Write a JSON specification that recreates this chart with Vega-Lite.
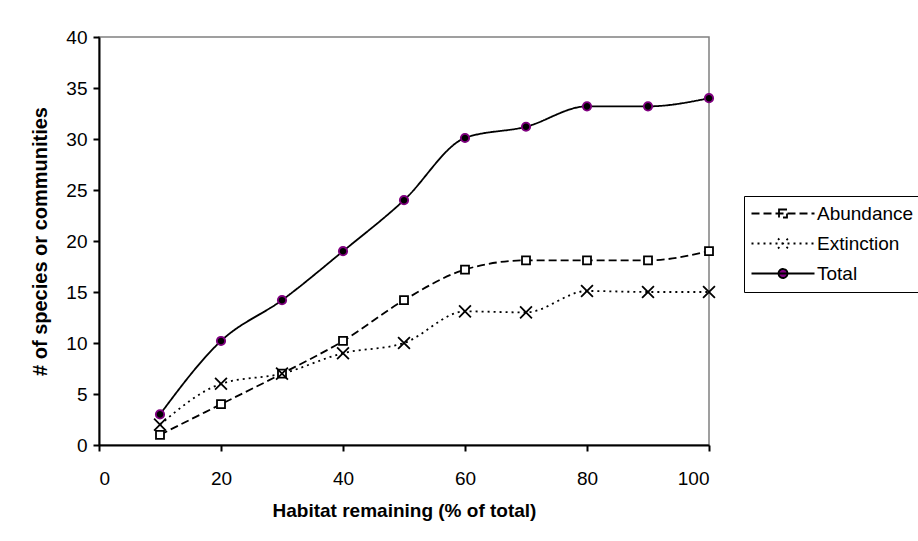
{
  "$schema": "https://vega.github.io/schema/vega-lite/v6.json",
  "width": 610,
  "height": 408,
  "autosize": {"type": "none"},
  "padding": {"left": 99, "top": 37, "right": 209, "bottom": 96},
  "background": "white",
  "config": {
    "view": {"stroke": "#808080", "strokeWidth": 1.5},
    "font": "Liberation Sans",
    "axis": {"labelFont": "Liberation Sans", "titleFont": "Liberation Sans", "labelFontSize": 19, "titleFontSize": 19, "titleFontWeight": "bold", "labelColor": "black", "titleColor": "black", "domainColor": "black", "domainWidth": 2, "tickColor": "black", "tickWidth": 2, "tickSize": 6, "grid": false}
  },
  "data": {"values": [
    {"x": 10, "series": "Abundance", "y": 1},
    {"x": 20, "series": "Abundance", "y": 4},
    {"x": 30, "series": "Abundance", "y": 7},
    {"x": 40, "series": "Abundance", "y": 10.2},
    {"x": 50, "series": "Abundance", "y": 14.2},
    {"x": 60, "series": "Abundance", "y": 17.2},
    {"x": 70, "series": "Abundance", "y": 18.1},
    {"x": 80, "series": "Abundance", "y": 18.1},
    {"x": 90, "series": "Abundance", "y": 18.1},
    {"x": 100, "series": "Abundance", "y": 19},
    {"x": 10, "series": "Extinction", "y": 2},
    {"x": 20, "series": "Extinction", "y": 6},
    {"x": 30, "series": "Extinction", "y": 7},
    {"x": 40, "series": "Extinction", "y": 9},
    {"x": 50, "series": "Extinction", "y": 10},
    {"x": 60, "series": "Extinction", "y": 13.1},
    {"x": 70, "series": "Extinction", "y": 13},
    {"x": 80, "series": "Extinction", "y": 15.1},
    {"x": 90, "series": "Extinction", "y": 15},
    {"x": 100, "series": "Extinction", "y": 15},
    {"x": 10, "series": "Total", "y": 3},
    {"x": 20, "series": "Total", "y": 10.2},
    {"x": 30, "series": "Total", "y": 14.2},
    {"x": 40, "series": "Total", "y": 19},
    {"x": 50, "series": "Total", "y": 24},
    {"x": 60, "series": "Total", "y": 30.1},
    {"x": 70, "series": "Total", "y": 31.2},
    {"x": 80, "series": "Total", "y": 33.2},
    {"x": 90, "series": "Total", "y": 33.2},
    {"x": 100, "series": "Total", "y": 34}
  ]},
  "encoding": {
    "x": {"field": "x", "type": "quantitative", "scale": {"domain": [0, 100], "nice": false}, "axis": {"values": [0, 20, 40, 60, 80, 100], "title": "Habitat remaining (% of total)", "labelPadding": 18, "titlePadding": 13}},
    "y": {"field": "y", "type": "quantitative", "scale": {"domain": [0, 40], "nice": false}, "axis": {"values": [0, 5, 10, 15, 20, 25, 30, 35, 40], "title": "# of species or communities", "titleFontSize": 20, "labelPadding": 6, "titlePadding": 15}}
  },
  "layer": [
    {
      "mark": {"type": "line", "interpolate": "monotone", "color": "black", "strokeWidth": 1.8},
      "encoding": {
        "strokeDash": {
          "field": "series", "type": "nominal",
          "scale": {"domain": ["Abundance", "Extinction", "Total"], "range": [[8, 4], [2, 4], [1, 0]]},
          "legend": {
            "title": null, "orient": "none", "legendX": 645, "legendY": 159,
            "strokeColor": "black", "fillColor": "white", "padding": 8,
            "symbolSize": 100, "symbolStrokeWidth": 1.8, "labelOffset": 46,
            "labelFontSize": 19, "labelFont": "Liberation Sans", "labelColor": "black",
            "rowPadding": 10,
            "encode": {"symbols": {"update": {
              "stroke": {"value": "black"},
              "opacity": {"value": 1},
              "strokeOpacity": {"value": 1},
              "fillOpacity": {"value": 1}
            }}}
          }
        }
      }
    },
    {
      "mark": {"type": "point", "filled": true, "opacity": 0, "strokeWidth": 1.8},
      "encoding": {
        "shape": {
          "field": "series", "type": "nominal",
          "scale": {"domain": ["Abundance", "Extinction", "Total"], "range": [
            "M-2,0L10.6,0M3.5,-0.8L5.1,-0.8L5.1,0.8L3.5,0.8Z",
            "M-2,0L10.6,0M3.3,-1L5.3,1M3.3,1L5.3,-1",
            "M-2,0L10.6,0M3.4,0A0.9,0.9 0 1,0 5.2,0A0.9,0.9 0 1,0 3.4,0Z"
          ]},
          "legend": {"title": null}
        },
        "fill": {
          "field": "series", "type": "nominal",
          "scale": {"domain": ["Abundance", "Extinction", "Total"], "range": ["white", "white", "#800080"]},
          "legend": {"title": null}
        }
      }
    },
    {
      "transform": [{"filter": "datum.series === 'Abundance'"}],
      "mark": {"type": "point", "shape": "square", "filled": true, "fill": "white", "stroke": "black", "opacity": 1, "strokeWidth": 1.8, "size": 64}
    },
    {
      "transform": [{"filter": "datum.series === 'Extinction'"}],
      "mark": {"type": "point", "shape": "M-1,-1L1,1M-1,1L1,-1", "filled": false, "stroke": "black", "opacity": 1, "strokeWidth": 1.8, "size": 140}
    },
    {
      "transform": [{"filter": "datum.series === 'Total'"}],
      "mark": {"type": "point", "shape": "circle", "filled": true, "fill": "black", "stroke": "#800080", "opacity": 1, "strokeWidth": 1.8, "size": 70}
    }
  ]
}
